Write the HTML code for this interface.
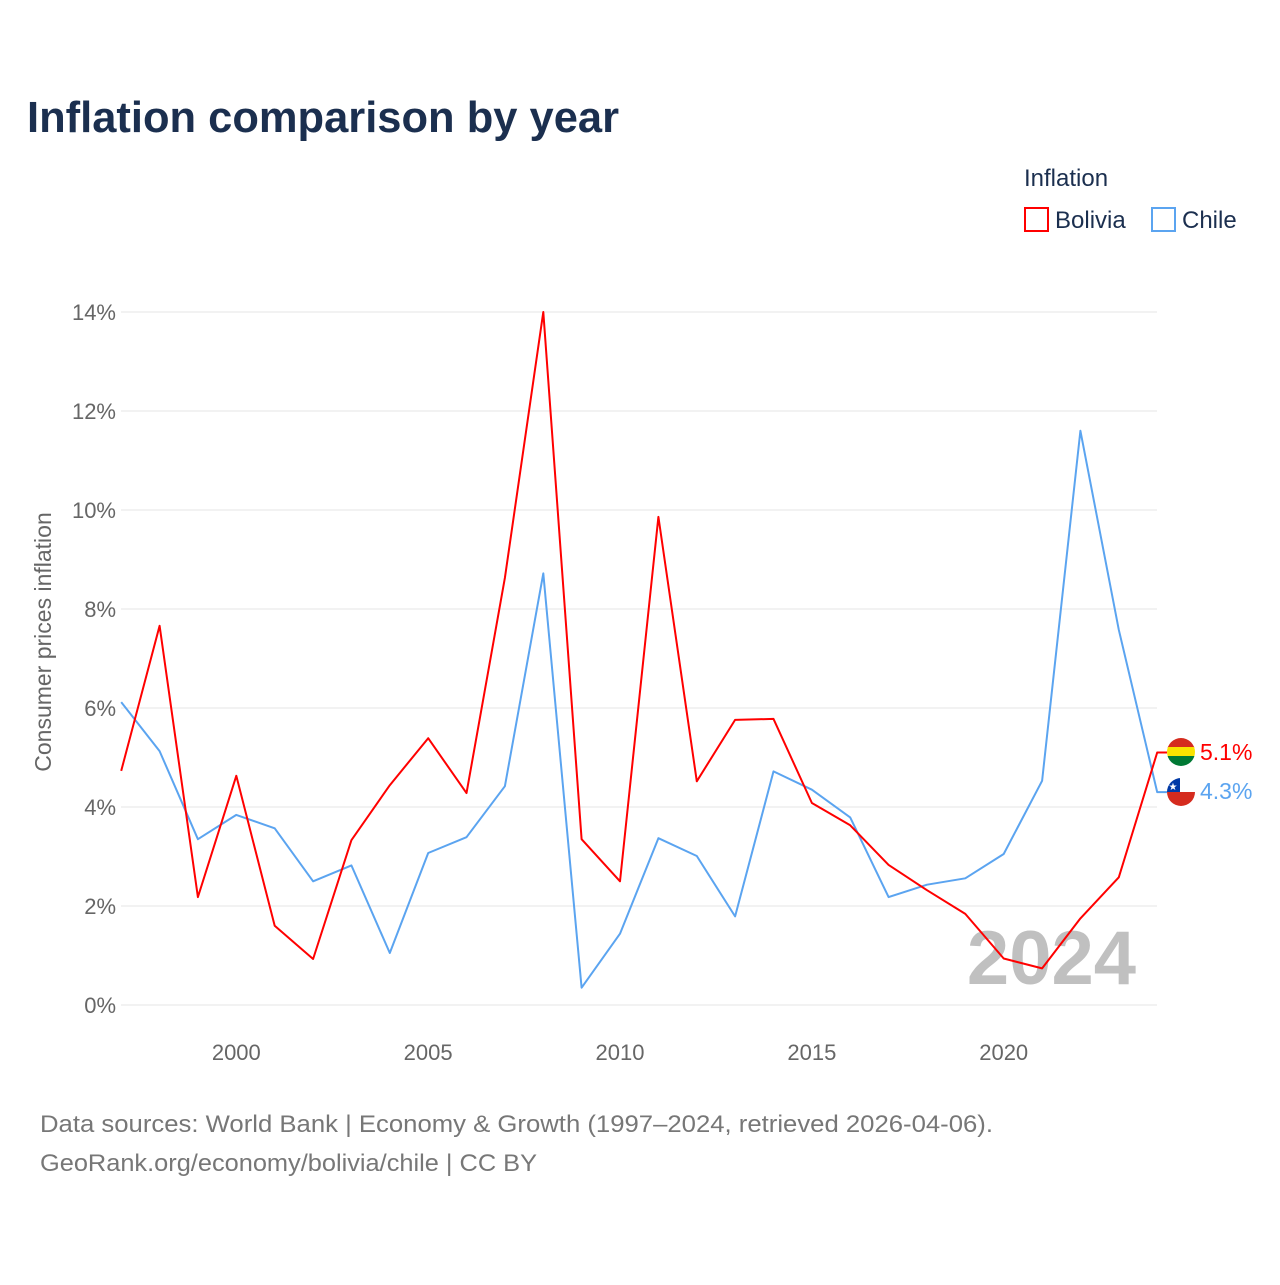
<!DOCTYPE html>
<html><head><meta charset="utf-8">
<style>
html,body{margin:0;padding:0;background:#fff;}
body{width:1280px;height:1280px;overflow:hidden;font-family:"Liberation Sans",sans-serif;}
</style></head>
<body>
<svg id="chart" width="1280" height="1280" xmlns="http://www.w3.org/2000/svg" font-family="Liberation Sans, sans-serif">
<text x="27" y="132" font-size="44" font-weight="bold" fill="#1b2f4f" textLength="592" lengthAdjust="spacingAndGlyphs">Inflation comparison by year</text>
<text x="1024" y="186" font-size="24" fill="#1b2f4f">Inflation</text>
<g>
<rect x="1025" y="208" width="23" height="23" fill="none" stroke="#ff0000" stroke-width="2"/>
<text x="1055" y="228" font-size="24" fill="#1b2f4f">Bolivia</text>
</g>
<g>
<rect x="1152" y="208" width="23" height="23" fill="none" stroke="#5ba4f0" stroke-width="2"/>
<text x="1182" y="228" font-size="24" fill="#1b2f4f">Chile</text>
</g>
<text transform="translate(51,642) rotate(-90)" text-anchor="middle" font-size="23" fill="#666">Consumer prices inflation</text>
<g id="grid"></g><g id="yticks"></g><g id="xticks"></g>
<text x="1136" y="984" text-anchor="end" font-size="76" font-weight="bold" fill="#c0c0c0">2024</text>
<g id="series"></g>
<g>
<clipPath id="cb"><circle cx="1181" cy="752" r="14"/></clipPath>
<g clip-path="url(#cb)"><rect x="1167" y="738" width="28" height="10" fill="#d52b1e"/><rect x="1167" y="747" width="28" height="10" fill="#f9e300"/><rect x="1167" y="756" width="28" height="10" fill="#007934"/></g>
</g>
<text x="1200" y="760" font-size="23" fill="#ff0000">5.1%</text>
<g>
<clipPath id="cc"><circle cx="1181" cy="792" r="14"/></clipPath>
<g clip-path="url(#cc)"><rect x="1167" y="778" width="28" height="14" fill="#fff"/><rect x="1167" y="778" width="13" height="14" fill="#0039a6"/><rect x="1167" y="792" width="28" height="14" fill="#d52b1e"/><text x="1173" y="790" font-size="10" fill="#fff" text-anchor="middle">★</text></g>
</g>
<text x="1200" y="799" font-size="23" fill="#5ba4f0">4.3%</text>
<text x="40" y="1132" font-size="24" fill="#777" textLength="953" lengthAdjust="spacingAndGlyphs">Data sources: World Bank | Economy &amp; Growth (1997–2024, retrieved 2026-04-06).</text>
<text x="40" y="1171" font-size="24" fill="#777" textLength="497" lengthAdjust="spacingAndGlyphs">GeoRank.org/economy/bolivia/chile | CC BY</text>
</svg>
<script>
const years=[1997,1998,1999,2000,2001,2002,2003,2004,2005,2006,2007,2008,2009,2010,2011,2012,2013,2014,2015,2016,2017,2018,2019,2020,2021,2022,2023,2024];
const bolivia=[4.73,7.66,2.18,4.63,1.60,0.93,3.33,4.44,5.39,4.28,8.63,14.0,3.35,2.50,9.86,4.52,5.76,5.78,4.08,3.63,2.83,2.32,1.84,0.94,0.74,1.75,2.58,5.1];
const chile=[6.12,5.13,3.35,3.84,3.57,2.50,2.82,1.05,3.07,3.39,4.42,8.72,0.35,1.44,3.37,3.01,1.79,4.72,4.35,3.79,2.18,2.43,2.56,3.05,4.53,11.6,7.58,4.3];
const yTicks=[0,2,4,6,8,10,12,14];
const xTicks=[2000,2005,2010,2015,2020];
const NS="http://www.w3.org/2000/svg";
const X=y=>121.2+(y-1997)*38.37;
const Y=v=>1005-v*49.5;
const grid=document.getElementById('grid'),yt=document.getElementById('yticks'),xt=document.getElementById('xticks'),ser=document.getElementById('series');
yTicks.forEach(t=>{
 const l=document.createElementNS(NS,'line');
 
 
 l.setAttribute('x1',121);l.setAttribute('x2',1157);l.setAttribute('y1',Y(t));l.setAttribute('y2',Y(t));
 l.setAttribute('stroke','#e6e6e6');l.setAttribute('stroke-width','1');grid.appendChild(l);
 const tx=document.createElementNS(NS,'text');
 
 
 tx.setAttribute('x',116);tx.setAttribute('y',Y(t)+8);tx.setAttribute('text-anchor','end');
 tx.setAttribute('font-size','22');tx.setAttribute('fill','#666');tx.textContent=t+'%';yt.appendChild(tx);
});
xTicks.forEach(t=>{
 const tx=document.createElementNS(NS,'text');
 
 
 tx.setAttribute('x',X(t));tx.setAttribute('y',1060);tx.setAttribute('text-anchor','middle');
 tx.setAttribute('font-size','22');tx.setAttribute('fill','#666');tx.textContent=t;xt.appendChild(tx);
});
function line(vals,color,name,endX){
 let pts=years.map((y,i)=>X(y).toFixed(1)+','+Y(vals[i]).toFixed(1));
 pts.push(endX+','+Y(vals[vals.length-1]).toFixed(1));
 const p=document.createElementNS(NS,'polyline');
 
 
 p.setAttribute('points',pts.join(' '));p.setAttribute('fill','none');
 p.setAttribute('stroke',color);p.setAttribute('stroke-width','2');p.setAttribute('stroke-linejoin','round');
 ser.appendChild(p);
}
line(chile,'#5ba4f0','chile-line',1167);
line(bolivia,'#ff0000','bolivia-line',1167);
</script>
</body></html>
